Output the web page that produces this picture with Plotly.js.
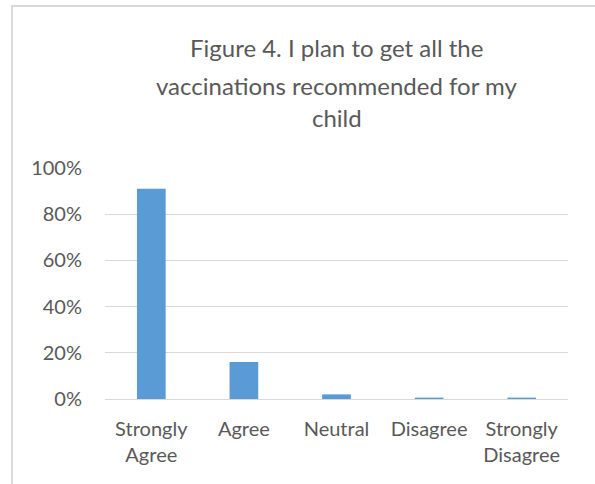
<!DOCTYPE html>
<html>
<head>
<meta charset="utf-8">
<script src="https://cdn.plot.ly/plotly-3.0.1.min.js"></script>
<style>
  html, body { margin: 0; padding: 0; background: #ffffff; }
  #wrap { position: relative; width: 595px; height: 484px; overflow: hidden; }
  #chart { position: absolute; left: 0; top: 0; width: 595px; height: 484px; }
  #frame {
    position: absolute; left: 11px; top: 5px; width: 700px; height: 600px;
    border-left: 2px solid #d9d9d9; border-top: 2px solid #d9d9d9;
    pointer-events: none;
  }
</style>
</head>
<body>
<div id="wrap">
  <div id="chart"></div>
  <div id="frame"></div>
</div>
<script>
// Survey responses, share of respondents (%)
const categories = ["Strongly<br>Agree", "Agree", "Neutral", "Disagree", "Strongly<br>Disagree"];
const shares = [91, 16, 2, 0.6, 0.6];
const yTicks = [0, 20, 40, 60, 80, 100];
const yTickText = yTicks.map(v => v + "%");
const titleLines = [
  "Figure 4. I plan to get all the",
  "vaccinations recommended for my",
  "child"
];

const textColor = "#595959";
const fontFamily = "Lato, 'Open Sans', sans-serif";

// plot area in pixels, used to place the title lines above it
const W = 595, H = 484;
const margin = { l: 105, r: 27, t: 167, b: 85 };
const plotH = H - margin.t - margin.b;
const titleCenters = [47, 85, 118];   // px from top of the figure
const toPaperY = px => (H - margin.b - px) / plotH;

const data = [{
  type: "bar",
  x: categories,
  y: shares,
  marker: { color: "#5B9BD5" },
  hoverinfo: "x+y"
}];

const layout = {
  width: W,
  height: H,
  margin: margin,
  paper_bgcolor: "#ffffff",
  plot_bgcolor: "#ffffff",
  font: { family: fontFamily, color: textColor, size: 20 },
  annotations: titleLines.map((t, i) => ({
    text: t,
    xref: "paper", yref: "paper",
    x: 0.5, y: toPaperY(titleCenters[i]),
    xanchor: "center", yanchor: "middle",
    showarrow: false,
    font: { family: fontFamily, size: 24, color: textColor }
  })),
  bargap: 0.69,
  showlegend: false,
  xaxis: {
    type: "category",
    showgrid: false,
    showline: true,
    linecolor: "#d9d9d9",
    linewidth: 1,
    ticks: "",
    tickfont: { family: fontFamily, size: 20, color: textColor },
    ticklabelstandoff: 12
  },
  yaxis: {
    range: [0, 100.4],
    tickmode: "array",
    tickvals: yTicks,
    ticktext: yTickText,
    showgrid: true,
    gridcolor: "#d9d9d9",
    gridwidth: 1,
    zeroline: false,
    showline: false,
    ticks: "",
    tickfont: { family: fontFamily, size: 20, color: textColor },
    ticklabelstandoff: 22
  }
};

Plotly.newPlot("chart", data, layout, { displayModeBar: false, staticPlot: true });
</script>
</body>
</html>
